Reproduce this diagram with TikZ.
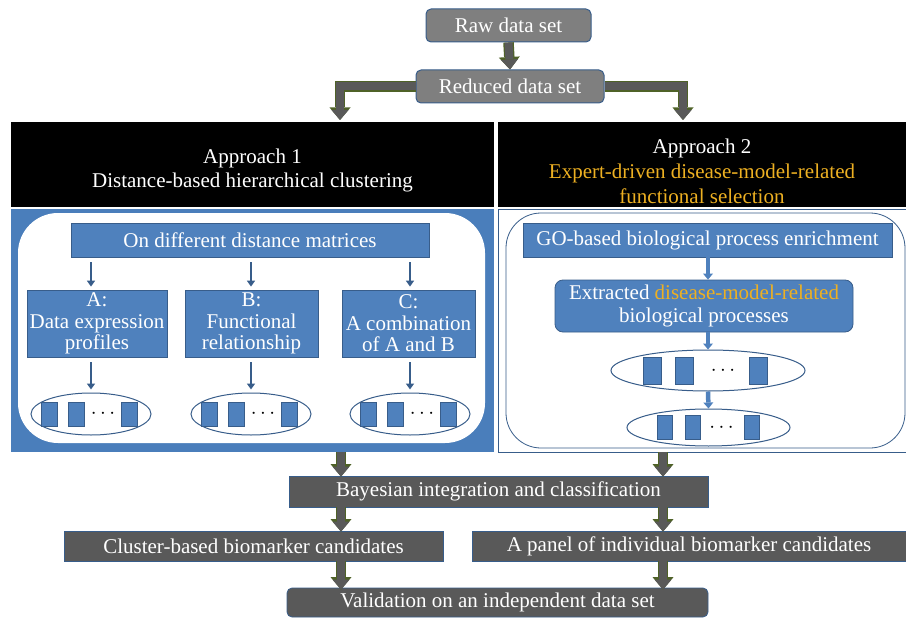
\documentclass[tikz,border=0pt]{standalone}
\usepackage{fontspec}
\setmainfont{Liberation Serif}
\usetikzlibrary{arrows.meta,shapes.geometric}

\definecolor{boxblue}{HTML}{4F81BD}
\definecolor{lineblue}{HTML}{385D8A}
\definecolor{panelblue}{HTML}{4A7EBB}
\definecolor{midgray}{HTML}{7F7F7F}
\definecolor{darkgray}{HTML}{595959}
\definecolor{olivegreen}{HTML}{4F6228}
\definecolor{gold}{HTML}{EDB022}

\tikzset{
  graybox/.style={draw=lineblue, fill=midgray, text=white, rounded corners=5pt, line width=1pt, inner sep=0pt},
  darkbox/.style={draw=lineblue, fill=darkgray, text=white, line width=0.8pt, inner sep=0pt},
  headbox/.style={fill=black, inner sep=0pt},
  headtext/.style={text=white, inner sep=0pt, align=center},
  bluebox/.style={draw=lineblue, fill=boxblue, text=white, line width=0.8pt, inner sep=0pt, align=center},
  clus/.style={ellipse, draw=lineblue, fill=white, line width=1pt, inner sep=0pt},
  bar/.style={draw=lineblue, fill=boxblue, line width=0.5pt, inner sep=0pt},
  bigarrow/.style={draw=darkgray, line width=8pt, line join=miter,
    -{Triangle[width=17pt,length=10pt,line width=0pt]},
    preaction={draw=olivegreen, line width=10.5pt, line join=miter,
      -{Triangle[width=21pt,length=12.5pt,line width=0pt]}}},
  thinarrow/.style={draw=lineblue, line width=2pt, -{Triangle[width=8pt,length=6pt]}, shorten <=5pt, shorten >=3pt},
  fatarrow/.style={draw=boxblue, line width=4.5pt, -{Triangle[width=10pt,length=6pt,line width=0pt]}}
}

\begin{document}
\begin{tikzpicture}[x=1pt,y=-1pt, font=\fontsize{21}{24}\selectfont]
\useasboundingbox (0,0) rectangle (906,618);

% top of the flow
\node[graybox, minimum width=165, minimum height=33] (raw) at (508.5,25.5) {Raw data set};
\node[graybox, minimum width=188, minimum height=33] (reduced) at (510,86.5) {Reduced data set};
\coordinate (a1in) at (340,120);
\coordinate (a2in) at (683,120);

% the two approaches
\node[headbox, minimum width=483, minimum height=85] (head1) at (252.5,164.5) {};
\node[headtext] (head1text) at ([yshift=-6pt]head1.center)
  {Approach 1\\Distance-based hierarchical clustering};
\node[headbox, minimum width=408, minimum height=85] (head2) at (702,164.5) {};
\node[headtext, font=\fontsize{21}{25}\selectfont] (head2text) at ([yshift=-7pt]head2.center)
  {Approach 2\\\color{gold}Expert-driven disease-model-related\\\color{gold}functional selection};

\fill[panelblue] (11,209) rectangle (494,452);
\fill[white, rounded corners=40pt] (18,213) rectangle (485,443);
\draw[draw=lineblue, fill=white, line width=0.6pt] (498,209) rectangle (906,452);
\draw[draw=lineblue, line width=0.8pt, rounded corners=35pt] (506,213) rectangle (905,448);
\coordinate (panelL) at (252.5,452);
\coordinate (panelR) at (702,452);

% approach 1
\node[bluebox, minimum width=358, minimum height=34] (dist) at (250,240) {On different distance matrices};
\begin{scope}[font=\fontsize{21}{21.5}\selectfont]
\node[bluebox, minimum width=140, minimum height=67] (colA) at (97,323.5) {A:\\Data expression\\profiles};
\node[bluebox, minimum width=133, minimum height=67] (colB) at (251.5,323.5) {B:\\Functional\\relationship};
\node[bluebox, minimum width=133, minimum height=67] (colC) at (408.5,323.5) {C:\\A combination\\of A and B};
\end{scope}
\node[clus, minimum width=120, minimum height=42] (ea) at (91,414) {};
\node[clus, minimum width=120, minimum height=42] (eb) at (251,414) {};
\node[clus, minimum width=120, minimum height=42] (ec) at (410,414) {};
\foreach \e in {ea,eb,ec} {
  \foreach \dx in {-42,-15,38}
    \node[bar, minimum width=16, minimum height=24] at ([xshift=\dx pt]\e.center) {};
  \node at ([xshift=12pt]\e.center) {$\cdots$};
}
\draw[thinarrow] (dist.south -| ea) -- (colA.north -| ea);
\draw[thinarrow] (dist.south -| eb) -- (colB.north -| eb);
\draw[thinarrow] (dist.south -| ec) -- (colC.north -| ec);
\draw[thinarrow] (colA.south -| ea) -- (ea.north);
\draw[thinarrow] (colB.south -| eb) -- (eb.north);
\draw[thinarrow] (colC.south -| ec) -- (ec.north);

% approach 2
\node[bluebox, minimum width=369, minimum height=34] (go) at (707.5,240) {GO-based biological process enrichment};
\node[bluebox, rounded corners=8pt, minimum width=298, minimum height=52, font=\fontsize{21}{23}\selectfont] (extr) at (704,306)
  {Extracted {\color{gold}disease-model-related}\\biological processes};
\node[clus, minimum width=194, minimum height=41] (e1) at (708,370.5) {};
\node[clus, minimum width=163, minimum height=37] (e2) at (708.5,427.5) {};
\foreach \dx in {-56,-23.5,50.5}
  \node[bar, minimum width=18, minimum height=27] at ([xshift=\dx pt]e1.center) {};
\node at ([xshift=15pt]e1.center) {$\cdots$};
\foreach \dx in {-44,-16,43}
  \node[bar, minimum width=15, minimum height=24] at ([xshift=\dx pt]e2.center) {};
\node at ([xshift=13pt]e2.center) {$\cdots$};
\draw[fatarrow] (go.south -| e1) -- (extr.north -| e1);
\draw[fatarrow] (extr.south -| e1) -- (e1.north);
\draw[fatarrow] (e1.south) -- (e2.north);

% bottom of the flow
\coordinate (cl) at (341,0);
\coordinate (cr) at (663,0);
\node[darkbox, minimum width=419, minimum height=31] (bayes) at (498.5,491.5) {Bayesian integration and classification};
\node[darkbox, minimum width=379, minimum height=30] (clust) at (253.5,546) {Cluster-based biomarker candidates};
\node[darkbox, minimum width=434, minimum height=30] (panel) at (689,546) {A panel of individual biomarker candidates};
\node[darkbox, rounded corners=5pt, minimum width=421, minimum height=29] (valid) at (497.5,602.5) {Validation on an independent data set};

\draw[bigarrow] (raw.south) -- (reduced.north);
\draw[bigarrow] (reduced.west) -| (a1in);
\draw[bigarrow] (reduced.east) -| (a2in);
\draw[bigarrow] (panelL -| cl) -- ([yshift=-1pt]bayes.north -| cl);
\draw[bigarrow] (panelR -| cr) -- ([yshift=-1pt]bayes.north -| cr);
\draw[bigarrow] (bayes.south -| cl) -- ([yshift=-1pt]clust.north -| cl);
\draw[bigarrow] (bayes.south -| cr) -- ([yshift=-1pt]panel.north -| cr);
\draw[bigarrow] (clust.south -| cl) -- ([yshift=-2pt]valid.north -| cl);
\draw[bigarrow] (panel.south -| cr) -- ([yshift=-2pt]valid.north -| cr);
\end{tikzpicture}
\end{document}
